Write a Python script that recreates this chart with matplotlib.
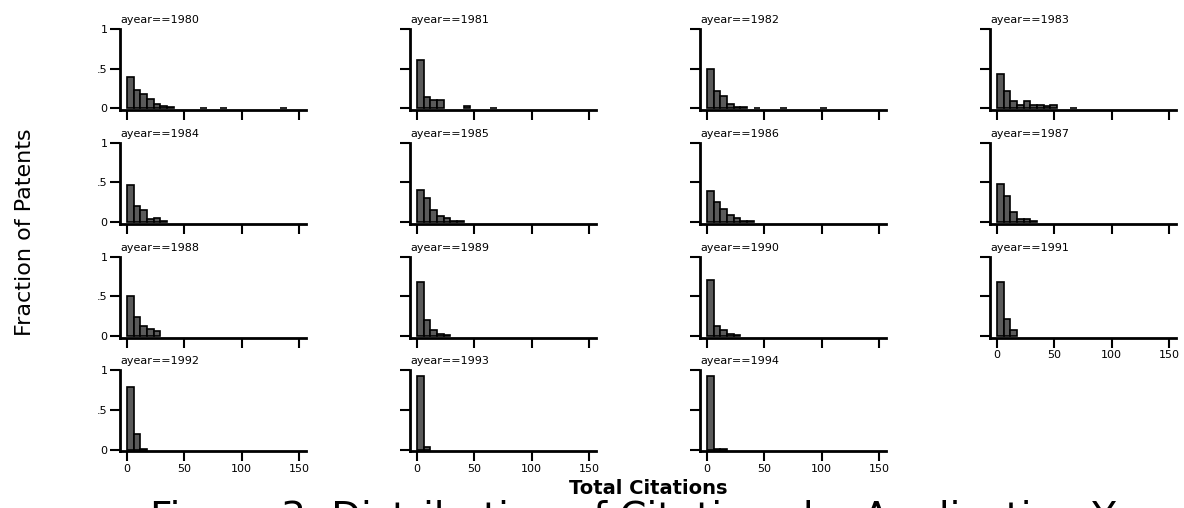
# 출원 연도별 특허 인용 횟수 분포 (히스토그램 격자)

import numpy as np
import matplotlib.pyplot as plt

# 연도 목록과 각 연도의 구간별 비율 (구간 폭 bin_width, 0부터 시작)
years = [1980, 1981, 1982, 1983, 1984, 1985, 1986, 1987,
         1988, 1989, 1990, 1991, 1992, 1993, 1994]
bin_width = 5.8

frac_1980 = [0.40, 0.23, 0.18, 0.115, 0.06, 0.03, 0.015, 0, 0, 0, 0, 0.005,
             0, 0, 0.005, 0, 0, 0, 0, 0, 0, 0, 0, 0.005]
frac_1981 = [0.61, 0.14, 0.10, 0.10, 0, 0, 0, 0.025, 0, 0, 0, 0.005]
frac_1982 = [0.50, 0.22, 0.15, 0.05, 0.015, 0.02, 0, 0.005, 0, 0, 0, 0.005,
             0, 0, 0, 0, 0, 0.005]
frac_1983 = [0.43, 0.22, 0.09, 0.04, 0.09, 0.04, 0.04, 0.025, 0.04, 0, 0, 0.005]
frac_1984 = [0.47, 0.20, 0.15, 0.04, 0.05, 0.02]
frac_1985 = [0.40, 0.30, 0.16, 0.08, 0.05, 0.02, 0.01]
frac_1986 = [0.39, 0.25, 0.17, 0.09, 0.05, 0.02, 0.01]
frac_1987 = [0.48, 0.33, 0.13, 0.04, 0.04, 0.01]
frac_1988 = [0.50, 0.24, 0.13, 0.09, 0.06]
frac_1989 = [0.68, 0.20, 0.07, 0.03, 0.01]
frac_1990 = [0.71, 0.12, 0.07, 0.03, 0.01]
frac_1991 = [0.68, 0.21, 0.08]
frac_1992 = [0.79, 0.20, 0.005]
frac_1993 = [0.93, 0.04]
frac_1994 = [0.93, 0.01, 0.005]

fractions = [frac_1980, frac_1981, frac_1982, frac_1983, frac_1984,
             frac_1985, frac_1986, frac_1987, frac_1988, frac_1989,
             frac_1990, frac_1991, frac_1992, frac_1993, frac_1994]

x_ticks = [0, 50, 100, 150]
y_ticks = [0, 0.5, 1]
y_tick_labels = ['0', '.5', '1']

# 그림 크기 (픽셀 단위로 배치)
W, H = 1184, 508
fig = plt.figure(figsize=(W / 100, H / 100), dpi=100)

left0, col_step, ax_w = 120, 290, 186
bottom0, row_step, ax_h = 110, 113.8, 85

for i, (year, frac) in enumerate(zip(years, fractions)):
    row, col = divmod(i, 4)
    left = left0 + col * col_step
    bottom = bottom0 + row * row_step
    ax = fig.add_axes([left / W, 1 - bottom / H, ax_w / W, ax_h / H])

    # 0인 구간은 그리지 않음
    frac = np.array(frac)
    edges = np.arange(len(frac)) * bin_width
    keep = frac > 0
    ax.bar(edges[keep], frac[keep], width=bin_width, align='edge',
           color='#5a5a5a', edgecolor='black', linewidth=1.2)

    ax.set_xlim(-6, 156)
    ax.set_ylim(-0.02, 1.05)
    for s in ['top', 'right']:
        ax.spines[s].set_visible(False)
    for s in ['left', 'bottom']:
        ax.spines[s].set_linewidth(2)
    ax.spines['left'].set_bounds(-0.02, 1.0)

    ax.set_xticks(x_ticks)
    ax.set_yticks(y_ticks)
    ax.tick_params(direction='out', length=7, width=1.5, labelsize=8, pad=2)

    # 마지막 행(과 1991 패널)에만 x 눈금 라벨
    if row == 3 or year == 1991:
        ax.set_xticklabels([str(v) for v in x_ticks])
    else:
        ax.set_xticklabels([])
    if col == 0:
        ax.set_yticklabels(y_tick_labels)
    else:
        ax.set_yticklabels([])

    ax.text(0, 1.0, f'ayear=={year}', transform=ax.transAxes,
            ha='left', va='bottom', fontsize=8)

# 축 제목과 캡션 (캡션은 아래쪽이 잘림)
fig.text(25 / W, 1 - 232 / H, 'Fraction of Patents', rotation=90,
         ha='center', va='center', fontsize=16)
fig.text(648 / W, 1 - 489 / H, 'Total Citations', ha='center', va='center',
         fontsize=14, fontweight='bold')
fig.text(150 / W, 1 - 530 / H,
         'Figure 3: Distribution of Citations by Application Year',
         ha='left', va='baseline', fontsize=28)

plt.savefig('out.png', dpi=100)
